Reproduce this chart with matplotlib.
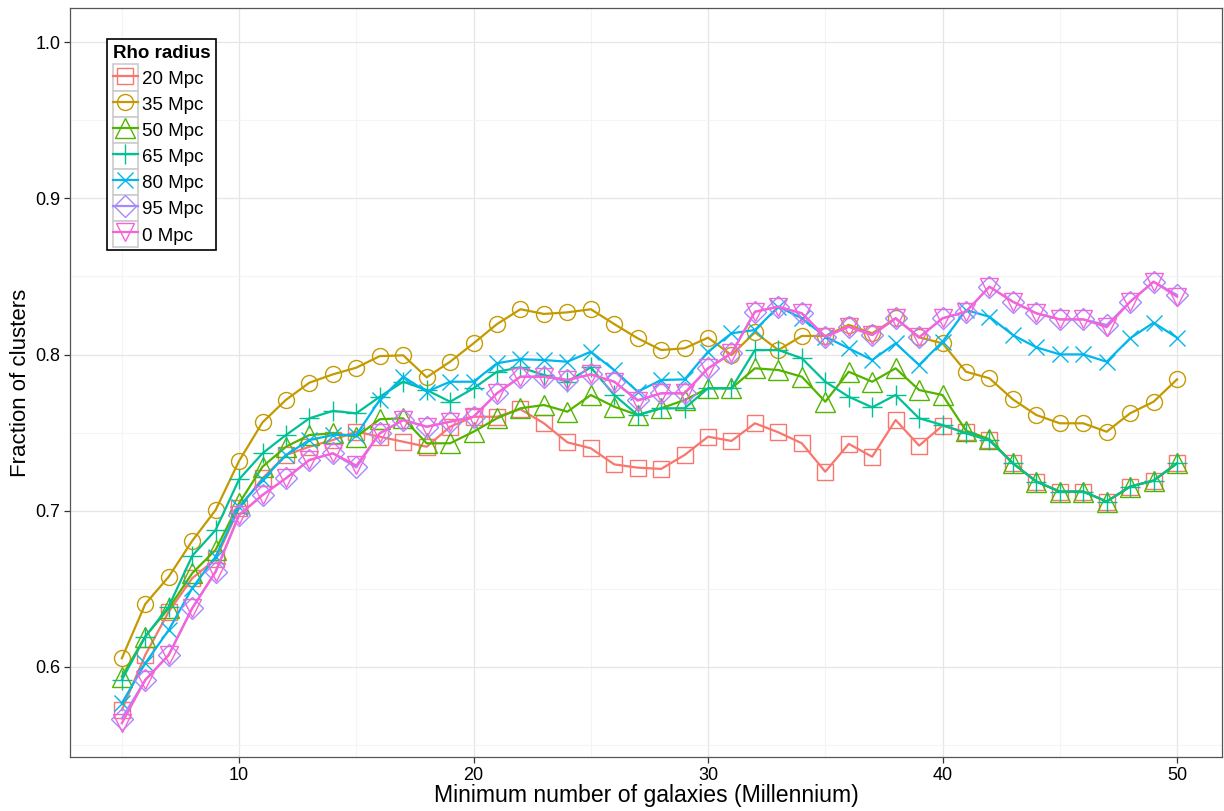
import matplotlib
matplotlib.use("Agg")
import matplotlib.pyplot as plt
from matplotlib.legend_handler import HandlerLine2D
from matplotlib.patches import Rectangle
from matplotlib.ticker import MultipleLocator

plt.rcParams['font.family'] = ['Liberation Sans', 'DejaVu Sans']

min_galaxies = list(range(5, 51))

rho_20 = [0.5725, 0.6077, 0.6354, 0.6568, 0.669, 0.7016, 0.7208, 0.7357, 0.741, 0.7453,
          0.7506, 0.7474, 0.7442, 0.741, 0.7538, 0.7602, 0.7602, 0.765, 0.756, 0.7438,
          0.740, 0.7297, 0.7276, 0.7268, 0.7357, 0.7474, 0.7447, 0.756, 0.7502, 0.7432,
          0.725, 0.7428, 0.7346, 0.7581, 0.7417, 0.7545, 0.7502, 0.7453, 0.7304, 0.7187,
          0.7123, 0.7123, 0.7059, 0.7155, 0.7193, 0.7304]
rho_35 = [0.6056, 0.6403, 0.6578, 0.6807, 0.7005, 0.7319, 0.7566, 0.771, 0.782, 0.7873,
          0.7916, 0.799, 0.7995, 0.7854, 0.7954, 0.8072, 0.8195, 0.829, 0.826, 0.827,
          0.829, 0.8195, 0.8104, 0.8029, 0.804, 0.8108, 0.7997, 0.8142, 0.8029, 0.8119,
          0.8119, 0.819, 0.8136, 0.8232, 0.811, 0.8072, 0.789, 0.7848, 0.7713, 0.7613,
          0.756, 0.756, 0.7506, 0.7624, 0.7698, 0.7841]
rho_50 = [0.5939, 0.6195, 0.6376, 0.66, 0.675, 0.7048, 0.7282, 0.741, 0.7485, 0.7496,
          0.7474, 0.7586, 0.7592, 0.7432, 0.7432, 0.7506, 0.7592, 0.7656, 0.7677, 0.7634,
          0.7741, 0.7666, 0.7613, 0.7656, 0.7709, 0.7784, 0.7784, 0.7912, 0.7901, 0.7858,
          0.7698, 0.789, 0.7826, 0.7912, 0.7773, 0.7741, 0.7513, 0.7458, 0.7304, 0.7187,
          0.7123, 0.7123, 0.7059, 0.7155, 0.7193, 0.7304]
rho_65 = [0.5917, 0.6195, 0.6387, 0.6711, 0.6877, 0.7201, 0.7368, 0.7485, 0.7592, 0.7639,
          0.7624, 0.773, 0.7826, 0.7773, 0.7698, 0.7784, 0.789, 0.7918, 0.7869, 0.7826,
          0.7918, 0.7741, 0.7613, 0.7656, 0.7656, 0.7784, 0.7784, 0.8029, 0.8029, 0.7976,
          0.7826, 0.773, 0.7662, 0.7741, 0.7592, 0.7549, 0.7496, 0.745, 0.7304, 0.7187,
          0.7123, 0.7123, 0.7059, 0.7155, 0.7193, 0.7304]
rho_80 = [0.5768, 0.6024, 0.6237, 0.6504, 0.6707, 0.7027, 0.7197, 0.7357, 0.7453, 0.7485,
          0.7485, 0.771, 0.7858, 0.7762, 0.7826, 0.7826, 0.7944, 0.797, 0.7965, 0.7954,
          0.8018, 0.79, 0.7762, 0.7837, 0.7841, 0.8018, 0.8136, 0.8157, 0.8306, 0.8232,
          0.8114, 0.804, 0.7965, 0.8072, 0.7933, 0.8082, 0.8285, 0.8242, 0.8125, 0.8046,
          0.8001, 0.8001, 0.7954, 0.8104, 0.8204, 0.8108]
rho_95 = [0.567, 0.5917, 0.6077, 0.6376, 0.661, 0.6973, 0.7101, 0.7208, 0.7325, 0.7368,
          0.7278, 0.7496, 0.7581, 0.7538, 0.757, 0.7602, 0.7752, 0.7858, 0.7858, 0.7837,
          0.7873, 0.7826, 0.7709, 0.7752, 0.7752, 0.7912, 0.8008, 0.8274, 0.8306, 0.8264,
          0.8114, 0.8178, 0.8125, 0.8232, 0.811, 0.8232, 0.8274, 0.8434, 0.8338, 0.8264,
          0.8225, 0.8225, 0.8189, 0.8338, 0.8466, 0.8381]
rho_0 = [0.564, 0.5917, 0.6077, 0.6376, 0.661, 0.6973, 0.7101, 0.7208, 0.7325, 0.7368,
         0.729, 0.7496, 0.7581, 0.7538, 0.757, 0.7602, 0.7752, 0.7858, 0.7858, 0.7837,
         0.7873, 0.7826, 0.7705, 0.7752, 0.7752, 0.7912, 0.8008, 0.8274, 0.8306, 0.8264,
         0.8114, 0.8178, 0.8125, 0.8232, 0.811, 0.8232, 0.8274, 0.8434, 0.8338, 0.8264,
         0.8225, 0.8225, 0.8175, 0.8338, 0.8466, 0.837]

labels = ['20 Mpc', '35 Mpc', '50 Mpc', '65 Mpc', '80 Mpc', '95 Mpc', '0 Mpc']
series = [rho_20, rho_35, rho_50, rho_65, rho_80, rho_95, rho_0]
colors = ['#F8766D', '#C49A00', '#53B400', '#00C094', '#00B6EB', '#A58AFF', '#FB61D7']
markers = ['s', 'o', '^', '+', 'x', 'D', 'v']
msizes = [11, 11.5, 14, 15, 12, 11, 13]

LEG_FS = 13.5
LEG_SPACING = 0.3


class KeyBox(HandlerLine2D):
    # legend key with a grey square behind the line + marker
    def create_artists(self, legend, orig_handle, xdescent, ydescent,
                       width, height, fontsize, trans):
        pad = LEG_SPACING * LEG_FS / 2
        box = Rectangle((-xdescent, -ydescent - pad), width, height + 2 * pad,
                        facecolor='white', edgecolor='#cccccc', lw=1.2,
                        transform=trans)
        arts = super().create_artists(legend, orig_handle, xdescent, ydescent,
                                      width, height, fontsize, trans)
        return [box] + arts


fig = plt.figure(figsize=(12.24, 8.11), dpi=100)
ax = fig.add_axes([0.0572, 0.0666, 0.9412, 0.9235])

for ys, lab, c, m, ms in zip(series, labels, colors, markers, msizes):
    ax.plot(min_galaxies, ys, color=c, lw=1.6, marker=m, markersize=ms,
            markerfacecolor='none', markeredgecolor=c, markeredgewidth=1.0,
            label=lab)

ax.set_xlim(2.79, 51.92)
ax.set_ylim(0.5424, 1.0218)
ax.xaxis.set_major_locator(MultipleLocator(10))
ax.xaxis.set_minor_locator(MultipleLocator(5))
ax.yaxis.set_major_locator(MultipleLocator(0.1))
ax.yaxis.set_minor_locator(MultipleLocator(0.05))
ax.yaxis.set_major_formatter(plt.FuncFormatter(lambda v, p: f'{v:.1f}'))

ax.grid(which='major', color='#e6e6e6', lw=0.9)
ax.grid(which='minor', color='#f4f4f4', lw=0.8)
ax.set_axisbelow(True)

for s in ax.spines.values():
    s.set_color('#555555')
    s.set_linewidth(0.9)
ax.tick_params(which='major', length=4, width=0.9, color='#333333',
               labelsize=13, labelcolor='black', pad=3)
ax.tick_params(which='minor', length=0)

ax.set_xlabel('Minimum number of galaxies (Millennium)', fontsize=16.6, labelpad=0)
ax.set_ylabel('Fraction of clusters', fontsize=16, labelpad=3)

leg = ax.legend(title='Rho radius', loc='upper left', bbox_to_anchor=(0.032, 0.9586),
                handler_map={plt.Line2D: KeyBox()}, fontsize=LEG_FS, title_fontsize=LEG_FS,
                fancybox=False, framealpha=1, edgecolor='black',
                handlelength=1.35, handleheight=1.3, labelspacing=LEG_SPACING,
                handletextpad=0.2, borderpad=0.3, borderaxespad=0,
                alignment='left', markerscale=1.0)
leg.get_frame().set_linewidth(1.2)
leg.get_title().set_fontweight('bold')

fig.savefig('out.png', dpi=100)
